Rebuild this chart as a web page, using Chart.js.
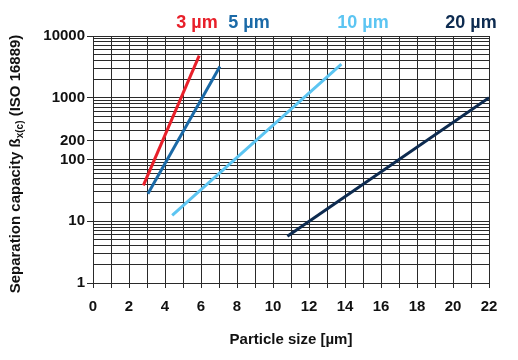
<!DOCTYPE html>
<html>
<head>
<meta charset="utf-8">
<script src="https://cdn.jsdelivr.net/npm/chart.js@4/dist/chart.umd.min.js"></script>
<style>
  html, body { margin: 0; padding: 0; background: #fff; }
  #wrap { width: 518px; height: 360px; position: relative; }
</style>
</head>
<body>
<div id="wrap"><canvas id="betaChart"></canvas></div>
<script>
// ----- DATA -----
const seriesNames = ['3 µm', '5 µm', '10 µm', '20 µm'];
const seriesColors = ['#e8202a', '#1b6aa7', '#5cc5f2', '#0d2b50'];
const size3 = [2.8, 5.9];
const beta3 = [38, 4800];
const size5 = [3.05, 7.05];
const beta5 = [28, 3200];
const size10 = [4.4, 13.8];
const beta10 = [12.5, 3500];
const size20 = [10.8, 22];
const beta20 = [5.7, 1000];
const xTicks = [0, 1, 2, 3, 4, 5, 6, 7, 8, 9, 10, 11, 12, 13, 14, 15, 16, 17, 18, 19, 20, 21, 22];
const yLabelled = [1, 10, 100, 200, 1000, 10000];
const yGrid = [1, 2, 3, 4, 5, 6, 7, 8, 9,
  10, 20, 30, 40, 50, 60, 70, 80, 90,
  100, 200, 300, 400, 500, 600, 700, 800, 900,
  1000, 2000, 3000, 4000, 5000, 6000, 7000, 8000, 9000,
  10000];

const sizes = [size3, size5, size10, size20];
const betas = [beta3, beta5, beta10, beta20];

const FONT = 'Liberation Sans, Arial, sans-serif';
const gridColor = '#2a2a2a';

// series labels above the plot and the y title with its subscript
const labelPos = [197, 249, 363, 471];
const annotations = {
  id: 'annotations',
  afterDraw(chart) {
    const ctx = chart.ctx;
    ctx.save();
    ctx.font = 'bold 18px ' + FONT;
    ctx.textAlign = 'center';
    ctx.textBaseline = 'middle';
    seriesNames.forEach((name, i) => {
      ctx.fillStyle = seriesColors[i];
      ctx.fillText(name, labelPos[i], 23);
    });

    // rotated y title
    const parts = [
      { t: 'Separation capacity ß', f: 'bold 15px ' + FONT, dy: 0 },
      { t: 'x(c)', f: 'bold 10px ' + FONT, dy: 4 },
      { t: ' (ISO 16889)', f: 'bold 15px ' + FONT, dy: 0 }
    ];
    let total = 0;
    parts.forEach(p => { ctx.font = p.f; p.w = ctx.measureText(p.t).width; total += p.w; });
    ctx.translate(16, 164);
    ctx.rotate(-Math.PI / 2);
    ctx.fillStyle = '#111';
    ctx.textAlign = 'left';
    let x = -total / 2;
    parts.forEach(p => {
      ctx.font = p.f;
      ctx.fillText(p.t, x, p.dy);
      x += p.w;
    });
    ctx.restore();
  }
};

new Chart(document.getElementById('betaChart').getContext('2d'), {
  type: 'line',
  data: {
    datasets: seriesNames.map((name, i) => ({
      label: name,
      data: sizes[i].map((s, k) => ({ x: s, y: betas[i][k] })),
      borderColor: seriesColors[i],
      backgroundColor: seriesColors[i],
      borderWidth: 3,
      pointRadius: 0,
      tension: 0,
      fill: false
    }))
  },
  options: {
    responsive: true,
    maintainAspectRatio: false,
    animation: false,
    layout: { padding: { left: 0, top: 36, right: 29, bottom: 0 } },
    plugins: { legend: { display: false }, tooltip: { enabled: false } },
    scales: {
      x: {
        type: 'linear',
        min: 0,
        max: 22,
        afterBuildTicks(scale) { scale.ticks = xTicks.map(v => ({ value: v })); },
        afterFit(scale) { scale.height = 77; },
        grid: { color: gridColor, lineWidth: 1, tickLength: 5, tickColor: gridColor },
        border: { color: gridColor, width: 1 },
        ticks: {
          autoSkip: false,
          maxRotation: 0,
          padding: 10,
          color: '#111',
          font: { family: FONT, size: 15, weight: 'bold' },
          callback: v => (v % 2 === 0 ? v : '')
        },
        title: {
          display: true,
          text: 'Particle size [µm]',
          color: '#111',
          font: { family: FONT, size: 15, weight: 'bold' },
          padding: { top: 0, bottom: 11 }
        }
      },
      y: {
        type: 'logarithmic',
        min: 1,
        max: 10000,
        afterBuildTicks(scale) { scale.ticks = yGrid.map(v => ({ value: v })); },
        afterFit(scale) { scale.width = 93; },
        grid: {
          color: gridColor,
          lineWidth: 1,
          tickLength: 6,
          tickColor: c => (c.tick && yLabelled.includes(c.tick.value) ? gridColor : 'rgba(0,0,0,0)')
        },
        border: { color: gridColor, width: 1 },
        ticks: {
          autoSkip: false,
          padding: 2,
          color: '#111',
          font: { family: FONT, size: 15, weight: 'bold' },
          callback: v => (yLabelled.includes(v) ? String(v) : '')
        }
      }
    }
  },
  plugins: [annotations]
});
</script>
</body>
</html>
